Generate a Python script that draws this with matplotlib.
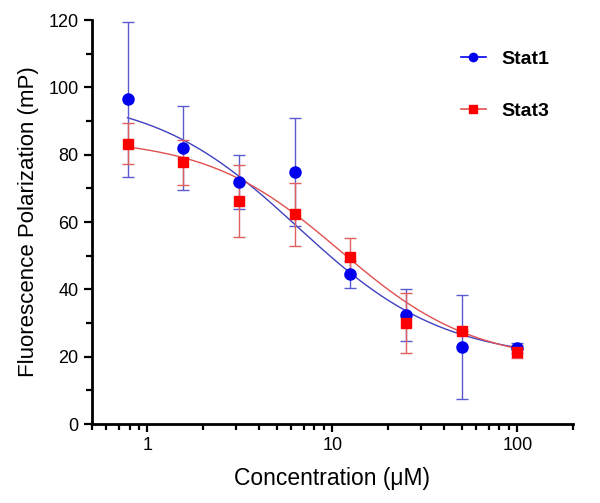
import numpy as np
import matplotlib
matplotlib.use("Agg")
import matplotlib.pyplot as plt
from matplotlib.ticker import FixedLocator, MultipleLocator, NullFormatter

plt.rcParams['font.family'] = ['Liberation Sans', 'DejaVu Sans']

conc = [0.78, 1.5625, 3.125, 6.25, 12.5, 25, 50, 100]
stat1 = [96.5, 82.0, 72.0, 74.8, 44.5, 32.5, 22.8, 22.5]
stat1_err = [23.0, 12.5, 8.0, 16.0, 4.0, 7.7, 15.5, 1.5]
stat3 = [83.3, 77.8, 66.3, 62.3, 49.7, 30.0, 27.7, 21.5]
stat3_err = [6.0, 6.7, 10.6, 9.4, 5.6, 9.0, 0.0, 2.0]

# fitted logistic parameters (top, bottom, IC50, Hill)
fit1 = (98.0, 19.0, 6.5, 1.1)
fit3 = (85.0, 18.0, 11.0, 1.2)

def logistic(x, top, bottom, ic50, h):
    return bottom + (top - bottom) / (1 + (x / ic50) ** h)

fig = plt.figure(figsize=(6.0, 5.03), dpi=100)
ax = fig.add_axes([0.153, 0.157, 0.802, 0.803])

xs = np.logspace(np.log10(conc[0]), np.log10(conc[-1]), 200)
ax.plot(xs, logistic(xs, *fit1), color='#4040c0', lw=1.0, zorder=2)
ax.plot(xs, logistic(xs, *fit3), color='#e05050', lw=1.0, zorder=2)

ax.errorbar(conc, stat1, yerr=stat1_err, fmt='none', ecolor='#5a5ad0', elinewidth=1.0,
            capsize=4, capthick=1.0, zorder=3)
ax.errorbar(conc, stat3, yerr=stat3_err, fmt='none', ecolor='#e06060', elinewidth=1.0,
            capsize=4, capthick=1.0, zorder=3)
ax.plot(conc, stat1, 'o', color='#0000ee', markersize=8, zorder=4)
ax.plot(conc, stat3, 's', color='#ff0000', markersize=7, zorder=5)

h1, = ax.plot([], [], 'o-', color='#0000ee', markersize=6, lw=1.2, mfc='#0000ee')
h3, = ax.plot([], [], 's-', color='#e05050', markersize=6, lw=1.2, mfc='#ff0000', mec='#ff0000')
leg = ax.legend([h1, h3], ['Stat1', 'Stat3'], loc='upper left', bbox_to_anchor=(0.73, 0.968),
                frameon=False, handlelength=1.3, handletextpad=0.8, labelspacing=1.75,
                prop={'weight': 'bold', 'size': 14})

ax.set_xscale('log')
ax.set_xlim(0.5, 200)
ax.set_ylim(0, 120)
ax.xaxis.set_major_locator(FixedLocator([1, 10, 100]))
ax.set_xticklabels(['1', '10', '100'])
ax.xaxis.set_minor_locator(FixedLocator([0.5, 0.6, 0.7, 0.8, 0.9] + list(range(2, 10)) +
                                        list(range(20, 100, 10)) + [200]))
ax.xaxis.set_minor_formatter(NullFormatter())
ax.yaxis.set_major_locator(MultipleLocator(20))
ax.yaxis.set_minor_locator(MultipleLocator(10))

for s in ['top', 'right']:
    ax.spines[s].set_visible(False)
for s in ['left', 'bottom']:
    ax.spines[s].set_linewidth(2.0)
ax.tick_params(which='major', direction='out', length=6, width=1.6, labelsize=13)
ax.tick_params(which='minor', direction='out', length=4, width=1.6)

ax.set_xlabel('Concentration (\u03bcM)', fontsize=16.5, labelpad=9)
ax.set_ylabel('Fluorescence Polarization (mP)', fontsize=16, labelpad=7)

fig.savefig('out.png', dpi=100)
